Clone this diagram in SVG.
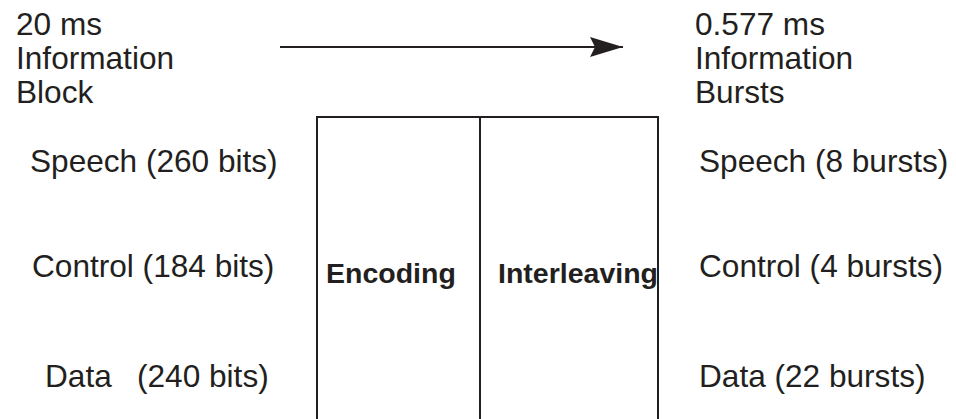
<svg xmlns="http://www.w3.org/2000/svg" width="956" height="419" viewBox="0 0 956 419">
<style>
text{font-family:"Liberation Sans",Arial,Helvetica,sans-serif;fill:#231f20}
.t{font-size:31.6px}
.b{font-size:28.5px;font-weight:bold}
.ln{stroke:#231f20;stroke-width:2;fill:none}
</style>
<defs>
<marker id="ah" markerUnits="userSpaceOnUse" markerWidth="34" markerHeight="22" refX="33" refY="10" orient="auto">
<path d="M0,0 L33,10 L0,20 L5,10 Z" fill="#231f20"/>
</marker>
</defs>
<rect width="956" height="419" fill="#fff"/>
<g id="left-header">
<text class="t" x="16" y="35">20 ms</text>
<text class="t" x="16" y="69">Information</text>
<text class="t" x="16" y="103">Block</text>
</g>
<g id="right-header">
<text class="t" x="695" y="35">0.577 ms</text>
<text class="t" x="695" y="69">Information</text>
<text class="t" x="695" y="103">Bursts</text>
</g>
<g id="connectors">
<line class="ln" x1="280" y1="47" x2="623" y2="47" marker-end="url(#ah)"/>
</g>
<g id="encoding">
<path class="ln" d="M317,420 V117 H480 V420"/>
<text class="b" x="326" y="283">Encoding</text>
</g>
<g id="interleaving">
<path class="ln" d="M480,117 H658 V420"/>
<text class="b" x="498" y="283">Interleaving</text>
</g>
<g id="left-labels">
<text class="t" x="30" y="172">Speech (260 bits)</text>
<text class="t" x="32" y="277">Control (184 bits)</text>
<text class="t" x="45" y="387">Data<tspan x="137">(240 bits)</tspan></text>
</g>
<g id="right-labels">
<text class="t" x="699" y="172">Speech (8 bursts)</text>
<text class="t" x="699" y="277">Control (4 bursts)</text>
<text class="t" x="699" y="387">Data (22 bursts)</text>
</g>
</svg>
